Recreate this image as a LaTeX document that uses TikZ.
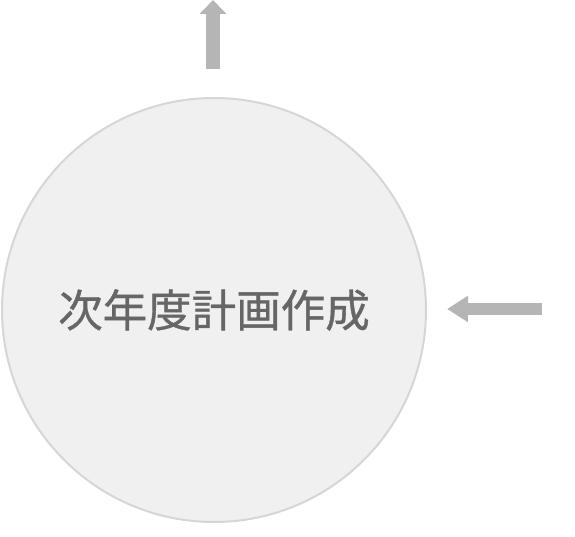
\documentclass[tikz,border=0pt]{standalone}
\usepackage{fontspec}
\newfontfamily\cjk[FakeBold=0.8]{Noto Sans CJK JP}
\usetikzlibrary{arrows.meta,positioning}
\definecolor{discgray}{HTML}{F0F0F0}
\definecolor{rimgray}{HTML}{D6D6D6}
\definecolor{arrowgray}{HTML}{B5B5B5}
\definecolor{textgray}{HTML}{666666}
\tikzstyle{disc} = [circle,fill=discgray,draw=rimgray,line width=2pt,minimum size=424pt,inner sep=0pt]
\tikzstyle{flow} = [arrowgray,-{Triangle[width=26pt,length=14pt]}]

\begin{document}
\begin{tikzpicture}[x=1pt,y=-1pt]
%--------------------start object code --------------------
	\useasboundingbox (0,0) rectangle (575,537);

	%Plan circle
	\node[disc,text=textgray,font=\cjk\fontsize{44.5}{44.5}\selectfont] (plan) at (214,310) {次年度計画作成};

	%Outgoing arrow
	\coordinate (upstart) at (213,69);
	\coordinate (upend) at (213,0);
	\draw[flow,line width=14pt] (upstart) -- (upend);

	%Incoming arrow
	\coordinate (instart) at (542,309);
	\coordinate (inend) at (447,309);
	\draw[flow,line width=12pt,-{Triangle[width=25pt,length=21pt]}] (instart) -- (inend);
%-------------------------end object code-----------------------
\end{tikzpicture}
\end{document}
